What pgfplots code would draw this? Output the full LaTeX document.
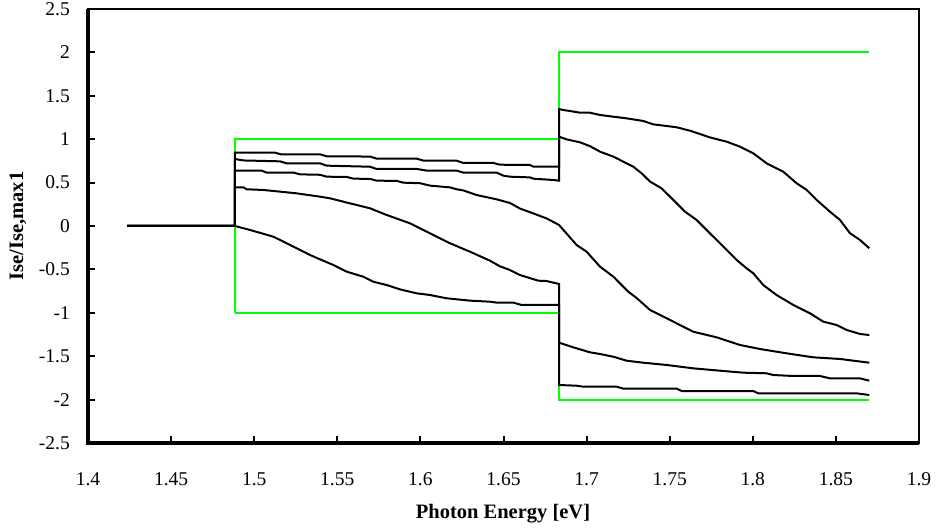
\documentclass[border=0pt]{standalone}
\usepackage{fontspec}
\setmainfont{Liberation Serif}
\usepackage{pgfplots}
\pgfplotsset{compat=1.18}
\definecolor{grn}{RGB}{0,255,0}
\begin{document}
\begin{tikzpicture}
\path[use as bounding box] (0,0) rectangle (936pt,529pt);
\begin{axis}[
  at={(88pt,86pt)}, anchor=south west,
  scale only axis, width=831pt, height=434pt,
  xmin=1.4, xmax=1.9, ymin=-2.5, ymax=2.5,
  xtick={1.4,1.45,1.5,1.55,1.6,1.65,1.7,1.75,1.8,1.85,1.9},
  xticklabels={1.4,1.45,1.5,1.55,1.6,1.65,1.7,1.75,1.8,1.85,1.9},
  ytick={-2.5,-2,-1.5,-1,-0.5,0,0.5,1,1.5,2,2.5},
  yticklabels={-2.5,-2,-1.5,-1,-0.5,0,0.5,1,1.5,2,2.5},
  tick align=inside, xtick pos=left, ytick pos=left,
  major tick length=7pt,
  tick style={line width=2pt, black},
  axis line style={line width=2pt},
  ticklabel style={font=\fontsize{19.5}{22}\selectfont, inner sep=0pt},
  xticklabel style={anchor=north, yshift=-29pt},
  yticklabel style={anchor=east, xshift=-18pt},
  xlabel={Photon Energy [eV]},
  ylabel={Ise/Ise,max1},
  label style={font=\fontsize{20.5}{22}\selectfont\bfseries},
  xlabel style={at={(axis description cs:0.4994,-0.175)}, anchor=base},
  ylabel style={at={(axis description cs:-0.0842,0.5)}, anchor=center, rotate=0},
  every axis plot/.append style={line width=2pt},
  after end axis/.code={\draw[line width=3.5pt] (rel axis cs:0,1) -- (rel axis cs:0,0) -- (rel axis cs:1,0);},
]
% green reference steps
\addplot[grn] coordinates {(1.4884,-1) (1.4884,1) (1.6834,1) (1.6834,2) (1.8701,2)};
\addplot[grn] coordinates {(1.4884,-1) (1.6834,-1) (1.6834,-2) (1.8701,-2)};
% curve A
\addplot[black] coordinates {(1.4235,0) (1.4884,0) (1.4884,0.845) (1.5125,0.845) (1.5160,0.826) (1.5396,0.826) (1.5436,0.803) (1.5697,0.800) (1.5737,0.776) (1.5978,0.776) (1.6018,0.753) (1.6218,0.752) (1.6258,0.726) (1.6439,0.726) (1.6479,0.706) (1.6659,0.703) (1.6680,0.683) (1.6834,0.683)
 (1.6834,1.348) (1.6860,1.336) (1.6900,1.325) (1.6960,1.305) (1.7020,1.305) (1.7081,1.279) (1.7161,1.259) (1.7241,1.240) (1.7341,1.210) (1.7401,1.171) (1.7482,1.152) (1.7542,1.137) (1.7622,1.098) (1.7742,1.021) (1.7843,0.971) (1.7923,0.914) (1.8003,0.837) (1.8083,0.722) (1.8183,0.626) (1.8264,0.492) (1.8324,0.415) (1.8384,0.300) (1.8464,0.165) (1.8525,0.069) (1.8585,-0.084) (1.8645,-0.161) (1.8701,-0.257)};
% curve B
\addplot[black] coordinates {(1.4235,0) (1.4884,0) (1.4884,0.772) (1.4935,0.755) (1.5155,0.745) (1.5195,0.722) (1.5396,0.722) (1.5436,0.695) (1.5697,0.683) (1.5737,0.657) (1.5978,0.657) (1.6038,0.638) (1.6218,0.638) (1.6258,0.615) (1.6459,0.615) (1.6499,0.580) (1.6539,0.568) (1.6660,0.560) (1.6680,0.545) (1.6800,0.530) (1.6834,0.522)
 (1.6834,1.029) (1.6880,0.998) (1.6960,0.964) (1.7020,0.920) (1.7081,0.856) (1.7161,0.799) (1.7281,0.683) (1.7331,0.607) (1.7382,0.511) (1.7451,0.434) (1.7522,0.300) (1.7592,0.165) (1.7662,0.069) (1.7742,-0.084) (1.7823,-0.238) (1.7903,-0.392) (1.7963,-0.488) (1.8003,-0.545) (1.8063,-0.680) (1.8143,-0.795) (1.8244,-0.910) (1.8344,-1.006) (1.8424,-1.102) (1.8505,-1.141) (1.8565,-1.198) (1.8645,-1.244) (1.8701,-1.256)};
% curve C
\addplot[black] coordinates {(1.4235,0) (1.4884,0) (1.4884,0.638) (1.5045,0.638) (1.5075,0.615) (1.5236,0.615) (1.5276,0.595) (1.5396,0.590) (1.5436,0.568) (1.5557,0.565) (1.5597,0.545) (1.5697,0.543) (1.5737,0.522) (1.5857,0.520) (1.5897,0.499) (1.5997,0.493) (1.6058,0.465) (1.6178,0.445) (1.6218,0.423) (1.6258,0.410) (1.6338,0.357) (1.6459,0.307) (1.6539,0.265) (1.6600,0.200) (1.6678,0.146) (1.6762,0.085) (1.6834,0.012) (1.6940,-0.219) (1.7000,-0.296) (1.7081,-0.469) (1.7161,-0.584) (1.7251,-0.757) (1.7301,-0.830) (1.7382,-0.968) (1.7502,-1.083) (1.7642,-1.218) (1.7783,-1.283) (1.7923,-1.371) (1.8043,-1.417) (1.8204,-1.467) (1.8364,-1.513) (1.8525,-1.532) (1.8701,-1.575)};
% curve D
\addplot[black] coordinates {(1.4235,0) (1.4884,0) (1.4884,0.445) (1.4935,0.445) (1.4955,0.423) (1.5055,0.415) (1.5155,0.396) (1.5256,0.376) (1.5396,0.338) (1.5456,0.319) (1.5576,0.261) (1.5697,0.204) (1.5797,0.127) (1.5937,0.031) (1.6058,-0.084) (1.6178,-0.199) (1.6298,-0.296) (1.6419,-0.400) (1.6479,-0.465) (1.6539,-0.507) (1.6599,-0.565) (1.6709,-0.630) (1.6759,-0.634) (1.6834,-0.668)
 (1.6834,-1.344) (1.6920,-1.398) (1.7020,-1.455) (1.7081,-1.475) (1.7161,-1.506) (1.7241,-1.552) (1.7341,-1.575) (1.7481,-1.601) (1.7642,-1.640) (1.7803,-1.667) (1.7943,-1.690) (1.8083,-1.697) (1.8123,-1.717) (1.8244,-1.728) (1.8404,-1.728) (1.8464,-1.755) (1.8644,-1.755) (1.8701,-1.782)};
% curve E
\addplot[black] coordinates {(1.4235,0) (1.4884,0) (1.4975,-0.046) (1.5115,-0.123) (1.5155,-0.161) (1.5256,-0.257) (1.5336,-0.334) (1.5396,-0.384) (1.5476,-0.449) (1.5556,-0.526) (1.5656,-0.584) (1.5717,-0.642) (1.5797,-0.680) (1.5877,-0.730) (1.5978,-0.776) (1.6058,-0.795) (1.6158,-0.833) (1.6298,-0.860) (1.6419,-0.872) (1.6459,-0.883) (1.6559,-0.883) (1.6609,-0.910) (1.6834,-0.910)
 (1.6834,-1.832) (1.6940,-1.840) (1.6980,-1.851) (1.7181,-1.851) (1.7221,-1.874) (1.7542,-1.874) (1.7572,-1.901) (1.8003,-1.901) (1.8033,-1.928) (1.8625,-1.928) (1.8701,-1.947)};
\end{axis}
\end{tikzpicture}
\end{document}
